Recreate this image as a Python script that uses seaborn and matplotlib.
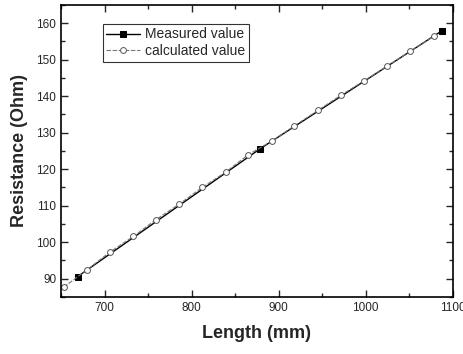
import numpy as np
import pandas as pd
import matplotlib
matplotlib.use("Agg")
import matplotlib.pyplot as plt
import seaborn as sns
from matplotlib.ticker import MultipleLocator

# datos
largo_medido = [669, 878, 1088]
res_medida = [90.6, 125.5, 158.0]

largo_calc = [653, 680, 706, 733, 759, 786, 812, 839, 865, 892, 918, 945,
              971, 998, 1024, 1051, 1078]
res_calc = [87.7, 92.5, 97.3, 101.6, 106.2, 110.5, 115.0, 119.2, 124.0, 127.7,
            131.9, 136.1, 140.2, 144.2, 148.2, 152.3, 156.4]

sns.set_style("ticks")
plt.rcParams['font.family'] = ['Liberation Sans', 'DejaVu Sans']

fig = plt.figure(figsize=(4.63, 3.54), dpi=100)
ax = fig.add_axes([0.132, 0.161, 0.846, 0.825])

df_med = pd.DataFrame({'x': largo_medido, 'y': res_medida})
df_calc = pd.DataFrame({'x': largo_calc, 'y': res_calc})

sns.lineplot(data=df_med, x='x', y='y', ax=ax, color='black', lw=1.0,
             marker='s', markersize=4.5, markeredgecolor='black',
             markerfacecolor='black', label='Measured value')
sns.lineplot(data=df_calc, x='x', y='y', ax=ax, color='#777777', lw=0.8,
             linestyle=(0, (4, 1.5)), marker='o', markersize=4.2,
             markerfacecolor='white', markeredgecolor='#555555',
             markeredgewidth=0.7, label='calculated value')

ax.set_xlim(650, 1100)
ax.set_ylim(85, 165)
ax.xaxis.set_major_locator(MultipleLocator(100))
ax.xaxis.set_minor_locator(MultipleLocator(50))
ax.yaxis.set_major_locator(MultipleLocator(10))
ax.yaxis.set_minor_locator(MultipleLocator(5))
ax.tick_params(which='both', direction='in', top=True, right=True,
               labeltop=False, labelright=False, labelsize=8.5, width=1)
ax.tick_params(which='major', length=5)
ax.tick_params(which='minor', length=3)
for s in ax.spines.values():
    s.set_linewidth(1.2)
    s.set_color('black')

ax.set_xlabel('Length (mm)', fontsize=13, fontweight='bold', labelpad=8)
ax.set_ylabel('Resistance (Ohm)', fontsize=13, fontweight='bold', labelpad=6)

leg = ax.legend(loc='upper left', bbox_to_anchor=(0.107, 0.935), fontsize=10,
                frameon=True, fancybox=False, edgecolor='black',
                handlelength=2.4, borderpad=0.25, labelspacing=0.2,
                handletextpad=0.4, borderaxespad=0)
leg.get_frame().set_linewidth(0.8)

fig.savefig('out.png', dpi=100)
